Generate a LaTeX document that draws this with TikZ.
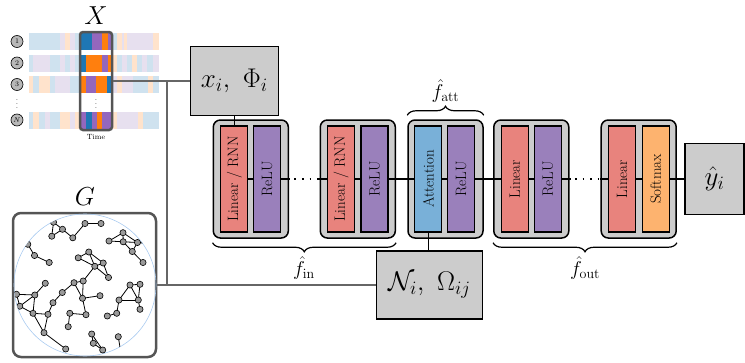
\RequirePackage{fix-cm}
\documentclass[tikz,border=0pt]{standalone}
\usepackage{amsmath}
\usetikzlibrary{decorations.pathreplacing,calc}
\definecolor{boxgray}{HTML}{CCCCCC}
\definecolor{redL}{HTML}{E8837D}
\definecolor{purpleL}{HTML}{9A80BB}
\definecolor{blueL}{HTML}{79B0D8}
\definecolor{orangeL}{HTML}{FDB36F}
\definecolor{colgray}{HTML}{555555}
\definecolor{linegray}{HTML}{666666}
\definecolor{circblue}{HTML}{A9CBF0}
\definecolor{nodegray}{HTML}{9A9A9A}
\definecolor{B}{HTML}{1F77B4}
\definecolor{O}{HTML}{FF7F0E}
\definecolor{P}{HTML}{9467BD}
\definecolor{LB}{HTML}{CFE2EF}
\definecolor{LO}{HTML}{FFE3CC}
\definecolor{LP}{HTML}{E7E0EF}
\newcommand\stripesrow[2]{\foreach \a/\b/\c in {#2} {\fill[\c] (\a,#1-8.5) rectangle (\b,#1+8.5);}}
\begin{document}
\begin{tikzpicture}[x=1pt,y=-1pt,
  blockouter/.style={draw=black, line width=1.5pt, fill=boxgray, rounded corners=7pt, minimum width=75pt, minimum height=118pt, inner sep=0pt},
  layer/.style={draw=black, line width=1.3pt, minimum width=106pt, minimum height=27pt, inner sep=0pt, rotate=90, font=\fontsize{15}{16}\selectfont},
  pbox/.style={draw=black, line width=1.5pt, fill=boxgray, inner sep=0pt, font=\fontsize{27}{30}\selectfont},
  gnode/.style={circle, draw=black, line width=0.6pt, fill=nodegray, minimum size=6.2pt, inner sep=0pt},
  gedge/.style={black, line width=0.8pt},
  rowc/.style={circle, draw=black, line width=0.6pt, fill=nodegray!70, minimum size=12pt, inner sep=0pt, font=\fontsize{7}{7}\selectfont},
  conn/.style={black, line width=1.4pt},
  gconn/.style={linegray, line width=1.8pt},
  dotseg/.style={black, line width=1.6pt, dash pattern=on 1.6pt off 6pt},
  bracestyle/.style={decorate, decoration={brace, amplitude=9pt}, line width=1.2pt},
  bigmath/.style={font=\fontsize{20}{22}\selectfont}
]
\useasboundingbox (0,0) rectangle (745,362);

% ---------- feature matrix X ----------
\stripesrow{41.5}{29/60/LB,60/65/LP,65/70/LO,70/75/LP,75/80/LB,80/92/B,92/102/P,102/108/O,108/112/P,112/117/LB,117/122/LO,122/124/LP,124/127/LO,127/153/LP,153/159/LO}
\stripesrow{63}{29/33/LB,33/50/LP,50/60/LB,60/65/LP,65/70/LB,70/75/LP,75/80/LB,80/86/B,86/102/O,102/108/P,108/112/O,112/117/LO,117/122/LB,122/127/LP,127/132/LB,132/137/LO,137/142/LB,142/147/LP,147/153/LB,153/159/LP}
\stripesrow{84.5}{29/33/LO,33/39/LB,39/50/LO,50/55/LB,55/70/LP,70/80/LB,80/86/O,86/96/P,96/107/O,107/112/B,112/117/LP,117/122/LO,122/133/LP,133/148/LB,148/153/LO,153/159/LB}
\stripesrow{120}{29/33/LB,33/39/LO,39/45/LB,45/50/LP,50/60/LB,60/70/LO,70/75/LP,75/80/LO,80/86/P,86/92/B,92/97/P,97/102/O,102/112/P,112/117/LO,117/138/LP,138/143/LO,143/159/LB}
\node[draw=colgray, line width=2.5pt, rounded corners=3pt, minimum width=32pt, minimum height=98pt, inner sep=0pt] (col) at (96,81) {};
\node (Xlab) at (96,16) {\fontsize{26}{28}\selectfont$X$};
\node (time) at (96,137) {\fontsize{7.5}{8}\selectfont Time};
\node[rowc] (r1) at (17,41.5) {1};
\node[rowc] (r2) at (17,63) {2};
\node[rowc] (r3) at (17,84.5) {3};
\node[rowc] (rN) at (17,120) {$N$};
\node[inner sep=0pt] (vd1) at (17,101) {\fontsize{8}{8}\selectfont$\vdots$};
\node[inner sep=0pt] (vd2) at (96,101) {\fontsize{8}{8}\selectfont$\vdots$};

% ---------- graph G ----------
\node[draw=colgray, line width=2.5pt, rounded corners=8pt, minimum width=143pt, minimum height=144pt, inner sep=0pt] (G) at (84.5,285) {};
\node (Glab) at (85,197) {\fontsize{26}{28}\selectfont$G$};
\draw[circblue, line width=0.6pt] (85,285) circle (71pt);
\begin{scope}
\clip (85,285) circle (71pt);
\foreach \n/\x/\y in {a0/55/210,a1/53.5/222.2,a2/62.5/229.3,a3/51.8/236.2,a4/72.8/237.8,a5/85/223.5,a6/101/223.5,
  b1/109/241,b2/123/232.7,b3/123.2/241.8,b4/137.5/242.5,b5/132.3/251.5,b6/143/262.5,b7/152/244,
  c00/18/236,c0/27.8/244.3,c1/34.5/255.5,c2/49.2/262.5,
  d1/78.2/257.8,d2/88.8/252,d3/94.8/266.3,d4/103.2/263,d5/108.5/277.5,
  e1/83.2/281,e2/74/282.7,e3/62.3/292.5,e4/53/302.7,
  f1/82.5/298.3,f2/100/295.7,f3/86/314.7,f4/69.8/313.3,f5/68.2/326.7,
  g1/16.5/294.3,g2/34.8/295,g3/45.3/283.3,g4/19.8/306.2,g5/33/313.3,g6/48/314.3,g8/44/332.7,g9/65.7/349,
  h1/130/285,h2/140/284.3,h3/119/300,h4/138.3/300,h5/140/309.3,h6/116.7/313.3,h7/107.3/316,
  i1/91.7/334,i2/93.3/343.3,i3/102.7/350,i4/118.3/336.7,i5/122/360}
  {\coordinate (\n) at (\x,\y);}
\foreach \u/\v in {a0/a1,a1/a2,a1/a3,a2/a3,a2/a4,a4/a5,a5/a6,
  b1/b2,b1/b3,b2/b3,b2/b4,b3/b4,b4/b7,b3/b5,b4/b5,b5/b6,
  c00/c0,c0/c1,c1/c2,
  d1/d2,d1/d3,d2/d3,d2/d4,d3/d4,d3/d5,d4/d5,d3/e1,
  e1/e2,e2/e3,e3/e4,e4/g6,e1/f1,e2/f1,f1/f2,f1/f3,f3/f4,f4/f5,
  g1/g2,g2/g3,g1/g4,g2/g4,g2/g5,g4/g5,g5/g6,g5/g8,g6/g8,g8/g9,
  h1/h2,h1/h3,h1/h4,h2/h4,h3/h4,h4/h5,h3/h6,h6/h7,
  i1/i2,i1/i3,i2/i3,i4/i5}
  {\draw[gedge] (\u) -- (\v);}
\foreach \n in {a0,a1,a2,a3,a4,a5,a6,b1,b2,b3,b4,b5,b6,b7,c00,c0,c1,c2,d1,d2,d3,d4,d5,
  e1,e2,e3,e4,f1,f2,f3,f4,f5,g1,g2,g3,g4,g5,g6,g8,g9,h1,h2,h3,h4,h5,h6,h7,i1,i2,i3,i4,i5}
  {\node[gnode] (n\n) at (\n) {};}
\end{scope}

% ---------- pipeline ----------
\node[pbox, minimum width=88pt, minimum height=69pt] (xb) at (234.3,81) {$x_i,\ \Phi_i$};
\node[pbox, minimum width=106pt, minimum height=68pt] (Nb) at (429.3,285) {$\mathcal{N}_i,\ \Omega_{ij}$};
\node[pbox, minimum width=59pt, minimum height=71pt] (yb) at (714.5,179) {$\hat{y}_i$};

\node[blockouter] (B1) at (250.8,179) {};
\node[blockouter] (B2) at (357.8,179) {};
\node[blockouter] (B3) at (445.5,179) {};
\node[blockouter] (B4) at (531.3,179) {};
\node[blockouter] (B5) at (638.7,179) {};

\node[layer, fill=redL] (L1a) at (234.3,179) {Linear / RNN};
\node[layer, fill=purpleL] (L1b) at (267.2,179) {ReLU};
\node[layer, fill=redL] (L2a) at (341.2,179) {Linear / RNN};
\node[layer, fill=purpleL] (L2b) at (374.6,179) {ReLU};
\node[layer, fill=blueL] (L3a) at (428.3,179) {Attention};
\node[layer, fill=purpleL] (L3b) at (461.2,179) {ReLU};
\node[layer, fill=redL] (L4a) at (514.7,179) {Linear};
\node[layer, fill=purpleL] (L4b) at (547.8,179) {ReLU};
\node[layer, fill=redL] (L5a) at (622,179) {Linear};
\node[layer, fill=orangeL] (L5b) at (655.8,179) {Softmax};

% main connectors
\draw[conn] (L1a) -- (L1b);
\path (L1b.south) ++(9,0) coordinate (p1);
\path (L2a.north) ++(-8,0) coordinate (p2);
\draw[conn] (L1b.south) -- (p1);
\draw[dotseg] ($(p1)+(4,0)$) -- (p2);
\draw[conn] (p2) -- (L2a.north);
\draw[conn] (L2a) -- (L2b);
\draw[conn] (L2b) -- (L3a);
\draw[conn] (L3a) -- (L3b);
\draw[conn] (L3b) -- (L4a);
\draw[conn] (L4a) -- (L4b);
\path (L4b.south) ++(9,0) coordinate (p3);
\path (L5a.north) ++(-8,0) coordinate (p4);
\draw[conn] (L4b.south) -- (p3);
\draw[dotseg] ($(p3)+(4,0)$) -- (p4);
\draw[conn] (p4) -- (L5a.north);
\draw[conn] (L5a) -- (L5b);
\draw[conn] (L5b) -- (yb);
\draw[conn] (xb.south) -- (L1a.east);
\draw[conn] (L3a.west) -- (L3a.west |- Nb.north);

% gray connectors
\draw[gconn] (col.east) -- (xb.west);
\draw[gconn] (G.east) -- (Nb.west);
\coordinate (j1) at (167,81);
\coordinate (j2) at (167,285);
\draw[gconn] (j1) -- (j2);

% braces
\draw[bracestyle] ([yshift=-4pt]B2.south east) -- ([yshift=-4pt]B1.south west);
\node[bigmath] (fin) at (304,268) {$\hat{f}_{\mathrm{in}}$};
\draw[bracestyle] ([yshift=4pt]B3.north west) -- ([yshift=4pt]B3.north east);
\node[bigmath] (fatt) at (445.5,91) {$\hat{f}_{\mathrm{att}}$};
\draw[bracestyle] ([yshift=-4pt]B5.south east) -- ([yshift=-4pt]B4.south west);
\node[bigmath] (fout) at (585,268) {$\hat{f}_{\mathrm{out}}$};
\end{tikzpicture}
\end{document}
